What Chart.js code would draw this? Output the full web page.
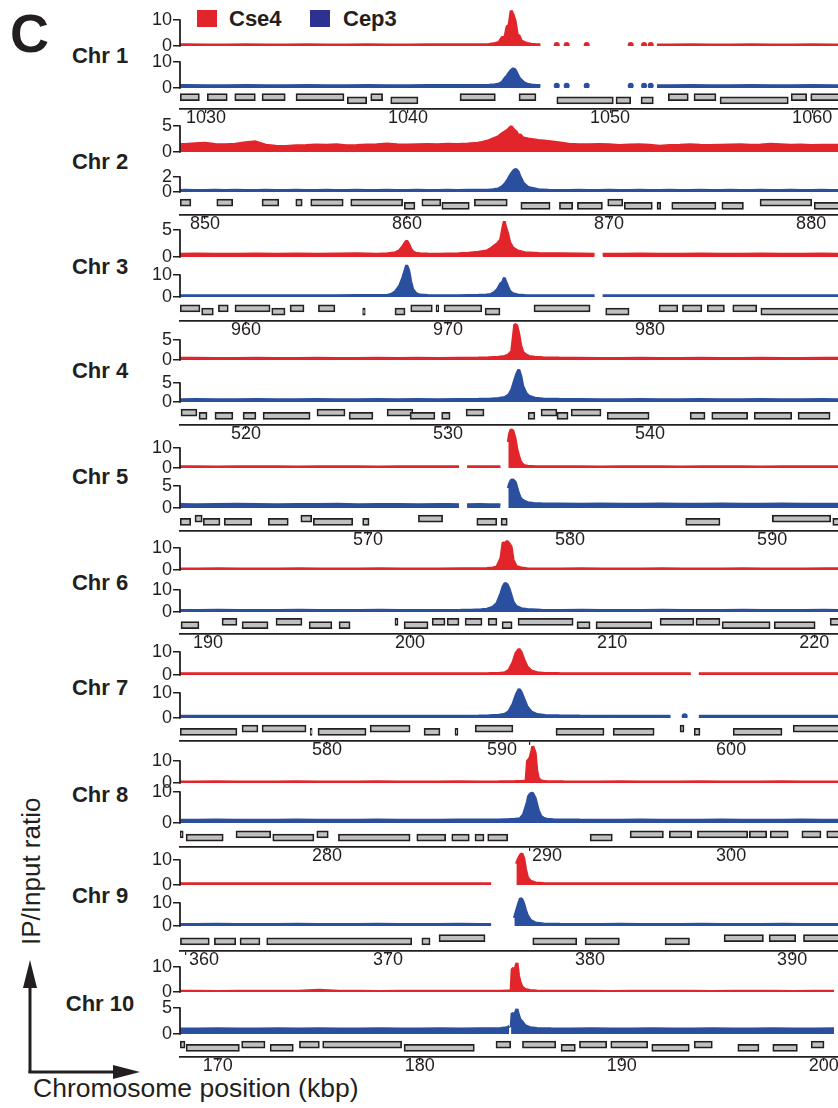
<!DOCTYPE html>
<html>
<head>
<meta charset="utf-8">
<title>Cse4 / Cep3 enrichment at centromeres</title>
<script src="https://cdn.jsdelivr.net/npm/chart.js@4.4.1/dist/chart.umd.min.js"></script>
<style>
  html, body { margin: 0; padding: 0; background: #fff; }
  #page { position: relative; width: 838px; height: 1108px; overflow: hidden; }
  #page canvas { position: absolute; left: 0; }
  #deco { position: absolute; left: 0; top: 0; }
</style>
</head>
<body>
<div id="page">
<svg id="deco" width="838" height="1108" xmlns="http://www.w3.org/2000/svg"
     font-family="'Liberation Sans', Arial, Helvetica, sans-serif" fill="#231f20">
  <text x="10" y="52" font-size="54" font-weight="bold">C</text>
  <rect x="197" y="10" width="20" height="17" fill="#e2242b"/>
  <text x="229" y="26" font-size="22" font-weight="bold">Cse4</text>
  <rect x="310" y="10" width="20" height="17" fill="#2e3192"/>
  <text x="343" y="26" font-size="22" font-weight="bold">Cep3</text>
  <text x="33" y="1097" font-size="26.5">Chromosome position (kbp)</text>
  <text transform="translate(40 945) rotate(-90)" font-size="26">IP/Input ratio</text>
  <line x1="30" y1="1073" x2="30" y2="984" stroke="#231f20" stroke-width="3"/>
  <polygon points="30,960 23,988 37,988"/>
  <line x1="28.5" y1="1072" x2="116" y2="1072" stroke="#231f20" stroke-width="3"/>
  <polygon points="140,1072 113,1065 113,1079"/>
  <g id="chrLabels" font-size="22" font-weight="bold" text-anchor="middle"></g>
</svg>
</div>
<script>
// Cse4 (red) and Cep3 (blue) IP/Input profiles around the ten centromeres

const INK = '#231f20';
const RED = '#e2242b';
const BLUE = '#2b4f9f';
const GENE = '#bfc0c2';
const FONT = "'Liberation Sans', Arial, Helvetica, sans-serif";

const chrNames = ['Chr 1', 'Chr 2', 'Chr 3', 'Chr 4', 'Chr 5', 'Chr 6', 'Chr 7', 'Chr 8', 'Chr 9', 'Chr 10'];
const xMin = [1028.71, 848.76, 956.73, 516.73, 560.69, 188.61, 572.72, 272.72, 359.70, 168.13];
const xSpan = 32.57;
const chrTicks = [
    [1030, 1040, 1050, 1060], [850, 860, 870, 880], [960, 970, 980], [520, 530, 540],
    [570, 580, 590], [190, 200, 210, 220], [580, 590, 600], [280, 290, 300],
    [360, 370, 380, 390], [170, 180, 190, 200]
];
const cse4Top = [10, 5, 5, 5, 10, 10, 10, 10, 10, 10];
const cep3Top = [10, 2, 10, 5, 5, 10, 10, 10, 10, 5];

// ---- Chr 1
const chr1Kbp = [1028, 1029, 1030, 1031, 1032, 1033, 1034, 1035, 1036, 1037, 1038, 1039, 1040, 1041, 1042, 1043, 1044,
    1044.3, 1044.5, 1044.65, 1044.8, 1044.9, 1045.0, 1045.1, 1045.2, 1045.3, 1045.4, 1045.5, 1045.6, 1045.75, 1045.9, 1046.1, 1046.3, 1046.55,
    1046.9, 1047.36, 1047.6, 1047.85, 1048.3, 1048.84, 1049.5, 1051.02, 1051.35, 1051.68, 1051.85, 1052.01, 1052.15,
    1052.32, 1053, 1054, 1055, 1056, 1057, 1058, 1059, 1060, 1061, 1062];
const chr1Cse4 = [0.4, 0.45, 0.4, 0.4, 0.45, 0.4, 0.4, 0.45, 0.4, 0.4, 0.45, 0.4, 0.4, 0.45, 0.5, 0.5, 0.6,
    1.0, 1.4, 3.2, 3.6, 7.5, 8.0, 13.6, 12.0, 9.5, 4.5, 3.8, 2.0, 1.4, 1.0, 0.7, 0.6, 0.5,
    null, 0.4, null, 0.4, null, 0.4, null, 0.4, null, 0.4, null, 0.4, null,
    0.4, 0.4, 0.45, 0.4, 0.4, 0.45, 0.4, 0.4, 0.45, 0.4, 0.4];
const chr1Cep3 = [0.9, 0.95, 0.9, 0.9, 0.95, 0.9, 0.9, 0.95, 0.9, 0.9, 0.95, 0.9, 0.9, 0.95, 1.0, 1.0, 1.1,
    1.3, 1.5, 2.2, 3.8, 4.6, 5.8, 6.8, 7.4, 7.0, 5.4, 3.9, 3.0, 2.0, 1.5, 1.2, 1.1, 1.0,
    null, 0.9, null, 0.9, null, 0.9, null, 0.9, null, 0.9, null, 0.9, null,
    0.9, 0.9, 0.95, 0.9, 0.9, 0.95, 0.9, 0.9, 0.95, 0.9, 0.9];
const chr1Genes = [
    [1028.72, 1029.67, 1], [1030.06, 1031.05, 1], [1031.42, 1032.44, 1], [1032.77, 1033.92, 1], [1034.45, 1036.83, 1],
    [1038.15, 1038.74, 1], [1042.57, 1044.32, 1], [1045.49, 1046.33, 1], [1052.88, 1053.87, 1], [1054.15, 1055.24, 1],
    [1058.96, 1059.73, 1], [1059.93, 1061.6, 1],
    [1036.99, 1037.95, -1], [1039.14, 1040.49, -1], [1047.36, 1050.16, -1], [1050.29, 1051.02, -1], [1051.53, 1052.14, -1],
    [1055.44, 1058.82, -1]];

// ---- Chr 2
const chr2Kbp = [848.5, 849, 849.5, 850, 850.5, 851, 851.5, 852, 852.5, 853, 853.5, 854, 854.5, 855, 855.5, 856, 856.5,
    857, 857.5, 858, 858.5, 859, 859.5, 860, 860.5, 861, 861.5, 862, 862.5, 863, 863.5,
    863.75, 864, 864.25, 864.5, 864.7, 864.85, 865, 865.15, 865.3, 865.4, 865.5, 865.6, 865.75, 866,
    866.5, 867, 867.5, 868, 868.5, 869, 869.5, 870, 870.5, 871, 871.5, 872, 872.5, 873, 873.5, 874, 874.5,
    875, 875.5, 876, 876.5, 877, 877.5, 878, 878.5, 879, 879.5, 880, 880.5, 881, 881.5];
const chr2Cse4 = [1.4, 1.45, 1.6, 1.7, 1.45, 1.4, 1.5, 1.8, 1.95, 1.3, 1.1, 1.05, 1.2, 1.25, 1.35, 1.3, 1.4,
    1.2, 1.25, 1.35, 1.4, 1.55, 1.4, 1.35, 1.4, 1.45, 1.4, 1.5, 1.45, 1.55, 1.7,
    1.9, 2.1, 2.5, 2.9, 3.5, 3.9, 4.3, 4.9, 4.2, 3.9, 3.2, 3.3, 2.7, 2.5,
    2.2, 2.0, 1.8, 1.5, 1.4, 1.4, 1.45, 1.4, 1.25, 1.35, 1.4, 1.3, 1.1, 1.25, 1.3, 1.4, 1.3,
    1.25, 1.3, 1.35, 1.4, 1.3, 1.35, 1.5, 1.4, 1.3, 1.35, 1.25, 1.3, 1.3, 1.3];
const chr2Cep3 = [0.2, 0.22, 0.2, 0.2, 0.22, 0.2, 0.22, 0.2, 0.2, 0.22, 0.2, 0.2, 0.22, 0.2, 0.2, 0.22, 0.2,
    0.2, 0.22, 0.2, 0.2, 0.22, 0.2, 0.2, 0.22, 0.2, 0.2, 0.22, 0.2, 0.22, 0.22,
    0.22, 0.25, 0.3, 0.4, 0.7, 1.1, 1.7, 2.4, 2.9, 3.0, 2.7, 2.0, 1.2, 0.6,
    0.3, 0.22, 0.2, 0.2, 0.22, 0.2, 0.2, 0.22, 0.2, 0.2, 0.22, 0.2, 0.2, 0.22, 0.2, 0.2, 0.22,
    0.2, 0.2, 0.22, 0.2, 0.2, 0.22, 0.2, 0.2, 0.22, 0.2, 0.2, 0.22, 0.2, 0.2];
const chr2Genes = [
    [848.77, 849.3, 1], [850.58, 851.37, 1], [852.82, 853.65, 1], [854.49, 854.81, 1], [855.23, 856.84, 1],
    [857.21, 859.78, 1], [860.73, 861.67, 1], [863.33, 864.96, 1], [869.93, 870.68, 1], [877.47, 880.03, 1],
    [859.86, 860.39, -1], [861.72, 863.08, -1], [865.63, 867.08, -1], [867.54, 868.2, -1], [868.43, 869.67, -1],
    [870.75, 872.14, -1], [872.37, 872.56, -1], [873.1, 875.29, -1], [875.58, 876.65, -1], [880.15, 881.6, -1]];

// ---- Chr 3
const chr3Kbp = [956.5, 957.5, 958.5, 959.5, 960.5, 961.5, 962.5, 963.5, 964.5, 965.5, 966.5,
    967.0, 967.2, 967.4, 967.6, 967.75, 967.85, 967.95, 968.05, 968.15, 968.25, 968.4, 968.6,
    969.0, 969.5, 970.0, 970.5, 971.0, 971.5,
    971.9, 972.1, 972.3, 972.45, 972.6, 972.7, 972.78, 972.85, 972.95, 973.05, 973.2, 973.45, 973.8,
    974.5, 975.5, 976.5, 977.25, 977.45, 977.65,
    978.5, 979.5, 980.5, 981.5, 982.5, 983.5, 984.5, 985.5, 986.5, 987.5, 988.5, 989.5];
const chr3Cse4 = [0.5, 0.55, 0.5, 0.5, 0.55, 0.5, 0.55, 0.5, 0.55, 0.6, 0.5,
    0.6, 0.7, 0.8, 1.2, 1.9, 2.5, 3.0, 2.4, 1.5, 1.0, 0.7, 0.6,
    0.55, 0.5, 0.55, 0.6, 0.7, 0.9,
    1.1, 1.5, 2.1, 2.5, 3.2, 5.2, 6.6, 5.5, 4.3, 2.7, 1.7, 1.1, 0.8,
    0.65, 0.6, 0.55, 0.5, null, 0.5,
    0.5, 0.55, 0.5, 0.5, 0.55, 0.5, 0.5, 0.55, 0.5, 0.5, 0.55, 0.5];
const chr3Cep3 = [0.55, 0.55, 0.6, 0.55, 0.55, 0.6, 0.55, 0.55, 0.6, 0.65, 0.65,
    0.7, 1.3, 2.5, 5.0, 8.5, 11.5, 14.4, 12.0, 7.0, 3.5, 1.7, 0.9,
    0.7, 0.6, 0.6, 0.6, 0.7, 0.8,
    0.9, 1.1, 2.1, 3.5, 6.0, 6.7, 8.7, 7.0, 4.7, 2.7, 1.5, 0.9, 0.7,
    0.6, 0.6, 0.6, 0.55, null, 0.55,
    0.55, 0.6, 0.55, 0.55, 0.6, 0.55, 0.55, 0.6, 0.55, 0.55, 0.6, 0.55];
const chr3Genes = [
    [956.74, 957.72, 1], [958.63, 959.12, 1], [959.45, 961.19, 1], [962.18, 962.87, 1], [963.58, 964.4, 1],
    [968.15, 969.22, 1], [969.4, 969.54, 1], [969.8, 971.67, 1], [974.25, 977.03, 1], [980.44, 981.37, 1],
    [981.6, 982.56, 1], [982.83, 983.68, 1], [984.09, 985.28, 1],
    [957.8, 958.38, -1], [961.27, 961.93, -1], [965.77, 965.9, -1], [967.37, 967.87, -1], [971.83, 972.57, -1],
    [977.8, 978.96, -1], [985.48, 989.6, -1]];

// ---- Chr 4
const chr4Kbp = [516.5, 517.5, 518.5, 519.5, 520.5, 521.5, 522.5, 523.5, 524.5, 525.5, 526.5, 527.5, 528.5, 529.5, 530.5, 531.5,
    532.0, 532.5, 532.8, 533.0, 533.15, 533.3, 533.4, 533.5, 533.6, 533.7, 533.85, 534.0, 534.3, 534.7,
    535.5, 536.5, 537.5, 538.5, 539.5, 540.5, 541.5, 542.5, 543.5, 544.5, 545.5, 546.5, 547.5, 548.5, 549.5];
const chr4Cse4 = [0.4, 0.45, 0.4, 0.4, 0.45, 0.4, 0.4, 0.45, 0.4, 0.4, 0.45, 0.4, 0.45, 0.4, 0.45, 0.5,
    0.55, 0.7, 0.9, 1.3, 2.2, 8.9, 8.6, 6.5, 3.5, 2.0, 1.3, 0.9, 0.7, 0.55,
    0.5, 0.45, 0.4, 0.4, 0.45, 0.4, 0.4, 0.45, 0.4, 0.4, 0.45, 0.4, 0.4, 0.45, 0.4];
const chr4Cep3 = [0.6, 0.65, 0.6, 0.6, 0.65, 0.6, 0.6, 0.65, 0.6, 0.6, 0.65, 0.6, 0.65, 0.6, 0.65, 0.7,
    0.75, 0.9, 1.2, 1.8, 3.2, 5.8, 7.4, 8.5, 6.8, 4.1, 2.4, 1.5, 1.0, 0.8,
    0.7, 0.65, 0.6, 0.6, 0.65, 0.6, 0.6, 0.65, 0.6, 0.6, 0.65, 0.6, 0.6, 0.65, 0.6];
const chr4Genes = [
    [516.78, 517.57, 1], [523.51, 524.9, 1], [526.98, 528.26, 1], [530.89, 531.78, 1], [534.6, 535.39, 1], [536.09, 537.57, 1],
    [517.67, 518.07, -1], [518.46, 519.35, -1], [519.85, 520.49, -1], [520.84, 523.17, -1], [525.1, 526.28, -1],
    [528.12, 529.35, -1], [529.68, 530.1, -1], [533.96, 534.3, -1], [535.39, 535.94, -1], [537.87, 539.95, -1],
    [541.98, 542.72, -1], [543.05, 544.83, -1], [545.15, 547.01, -1], [547.32, 548.91, -1]];

// ---- Chr 5
const chr5Kbp = [560.5, 561.5, 562.5, 563.5, 564.5, 565.5, 566.5, 567.5, 568.5, 569.5, 570.5, 571.5, 572.5, 573.5,
    574.0, 574.5, 574.7, 574.9, 575.5, 576.0, 576.55, 576.75,
    576.94, 577.0, 577.08, 577.17, 577.28, 577.36, 577.44, 577.53, 577.61, 577.75, 577.9, 578.2, 578.6,
    579.5, 580.5, 581.5, 582.5, 583.5, 584.5, 585.5, 586.5, 587.5, 588.5, 589.5, 590.5, 591.5, 592.5, 593.5];
const chr5Cse4 = [0.6, 0.6, 0.55, 0.6, 0.6, 0.6, 0.55, 0.6, 0.6, 0.6, 0.55, 0.6, 0.6, 0.6,
    0.6, 0.6, null, 0.6, 0.6, 0.6, 0.6, null,
    13, 17, 19.2, 18.5, 14.5, 9.5, 6.5, 3.5, 2.2, 1.2, 0.9, 0.7, 0.6,
    0.6, 0.6, 0.55, 0.6, 0.6, 0.6, 0.55, 0.6, 0.6, 0.6, 0.55, 0.6, 0.6, 0.6, 0.6];
const chr5Cep3 = [0.8, 0.75, 0.8, 0.85, 0.8, 0.75, 0.8, 0.8, 0.85, 0.75, 0.8, 0.8, 0.75, 0.8,
    0.8, 0.75, null, 0.75, 0.8, 0.75, 0.75, null,
    4.5, 5.5, 6.3, 6.4, 5.9, 4.7, 3.4, 2.3, 1.9, 1.5, 1.2, 1.0, 0.95,
    0.9, 0.85, 0.9, 0.85, 0.85, 0.9, 0.85, 0.85, 0.9, 0.85, 0.85, 0.9, 0.85, 0.85, 0.85];
const chr5Genes = [
    [561.43, 561.79, 1], [566.67, 567.21, 1], [572.49, 573.69, 1], [590.01, 592.9, 1],
    [560.7, 561.22, -1], [561.84, 562.67, -1], [562.88, 564.24, -1], [565.06, 566.05, -1], [567.29, 569.24, -1],
    [569.73, 570.05, -1], [575.38, 576.37, -1], [576.58, 576.89, -1], [585.72, 587.42, -1], [593.0, 593.5, -1]];

// ---- Chr 6
const chr6Kbp = [188.5, 189.5, 190.5, 191.5, 192.5, 193.5, 194.5, 195.5, 196.5, 197.5, 198.5, 199.5, 200.5, 201.5, 202.5,
    203.0, 203.5, 203.8, 204.1, 204.3, 204.5, 204.6, 204.7, 204.8, 204.9, 205.0, 205.1, 205.25, 205.5, 205.8, 206.5,
    207.5, 208.5, 209.5, 210.5, 211.5, 212.5, 213.5, 214.5, 215.5, 216.5, 217.5, 218.5, 219.5, 220.5, 221.5];
const chr6Cse4 = [0.5, 0.5, 0.55, 0.5, 0.5, 0.5, 0.55, 0.5, 0.5, 0.5, 0.55, 0.5, 0.5, 0.5, 0.55,
    0.55, 0.6, 0.7, 0.9, 1.4, 5.5, 12.5, 11.8, 13.1, 12.0, 10.5, 4.5, 1.6, 0.9, 0.6, 0.5,
    0.5, 0.55, 0.5, 0.5, 0.5, 0.55, 0.5, 0.5, 0.5, 0.55, 0.5, 0.5, 0.5, 0.55, 0.5];
const chr6Cep3 = [0.7, 0.7, 0.75, 0.7, 0.7, 0.7, 0.75, 0.7, 0.7, 0.7, 0.75, 0.7, 0.7, 0.7, 0.75,
    0.8, 1.0, 1.3, 2.2, 4.0, 8.5, 11.5, 13.1, 12.5, 10.5, 7.5, 4.5, 2.6, 1.5, 1.1, 0.8,
    0.7, 0.75, 0.7, 0.7, 0.7, 0.75, 0.7, 0.7, 0.7, 0.75, 0.7, 0.7, 0.7, 0.75, 0.7];
const chr6Genes = [
    [190.69, 191.43, 1], [193.36, 194.65, 1], [199.25, 199.4, 1], [201.09, 201.73, 1], [201.83, 202.42, 1],
    [202.72, 203.56, 1], [203.86, 204.3, 1], [205.34, 208.07, 1], [212.37, 214.05, 1], [214.15, 215.34, 1], [220.79, 221.5, 1],
    [188.66, 189.55, -1], [191.68, 192.97, -1], [195.0, 196.13, -1], [196.48, 197.03, -1], [199.7, 200.89, -1],
    [204.55, 205.05, -1], [208.26, 208.91, -1], [209.2, 211.97, -1], [215.44, 217.82, -1], [218.02, 220.05, -1]];

// ---- Chr 7
const chr7Kbp = [572.5, 573.5, 574.5, 575.5, 576.5, 577.5, 578.5, 579.5, 580.5, 581.5, 582.5, 583.5, 584.5, 585.5, 586.5, 587.5,
    588.0, 588.5, 588.8, 589.0, 589.2, 589.35, 589.5, 589.6, 589.75, 589.9, 590.1, 590.4, 590.8,
    591.5, 592.5, 593.5, 594.5, 595.5, 596.5,
    597.0, 597.3, 597.7, 598.0, 598.2, 598.4, 599.0,
    600, 601, 602, 603, 604, 605.5];
const chr7Cse4 = [0.5, 0.5, 0.55, 0.5, 0.5, 0.5, 0.55, 0.5, 0.5, 0.5, 0.55, 0.5, 0.5, 0.5, 0.55, 0.55,
    0.6, 0.7, 1.0, 2.0, 5.5, 9.5, 11.2, 10, 6.5, 3.5, 1.8, 1.0, 0.7,
    0.6, 0.55, 0.5, 0.5, 0.5, 0.55,
    0.5, 0.5, 0.5, 0.5, null, 0.5, 0.5,
    0.5, 0.55, 0.5, 0.5, 0.5, 0.5];
const chr7Cep3 = [0.7, 0.7, 0.75, 0.7, 0.7, 0.7, 0.75, 0.7, 0.7, 0.7, 0.75, 0.7, 0.7, 0.7, 0.75, 0.8,
    0.9, 1.1, 1.5, 2.6, 5.5, 9, 11.5, 10.5, 7.5, 4.5, 2.5, 1.4, 1.0,
    0.9, 0.8, 0.75, 0.7, 0.7, 0.7,
    0.7, null, 0.7, null, null, 0.7, 0.7,
    0.7, 0.75, 0.7, 0.7, 0.7, 0.7];
const chr7Genes = [
    [575.79, 576.58, 1], [576.78, 578.96, 1], [582.13, 584.11, 1], [587.33, 589.2, 1], [597.47, 597.67, 1], [603.07, 605.5, 1],
    [572.73, 575.54, -1], [579.17, 579.26, -1], [579.55, 581.93, -1], [584.8, 585.59, -1], [586.33, 586.48, -1],
    [591.33, 593.71, -1], [594.16, 596.19, -1], [598.17, 598.46, -1], [600.1, 602.52, -1]];

// ---- Chr 8
const chr8Kbp = [272.5, 273.5, 274.5, 275.5, 276.5, 277.5, 278.5, 279.5, 280.5, 281.5, 282.5, 283.5, 284.5, 285.5, 286.5, 287.5, 288.5,
    289.0, 289.3, 289.55, 289.72, 289.85, 289.92, 289.97, 290.05, 290.13, 290.18, 290.3, 290.38, 290.46, 290.58, 290.7, 290.87, 291.2, 291.7,
    292.5, 293.5, 294.5, 295.5, 296.5, 297.5, 298.5, 299.5, 300.5, 301.5, 302.5, 303.5, 304.5, 305.5];
const chr8Cse4 = [0.5, 0.5, 0.55, 0.5, 0.5, 0.5, 0.55, 0.5, 0.5, 0.5, 0.55, 0.5, 0.5, 0.5, 0.55, 0.5, 0.55,
    0.6, 0.65, 0.7, 0.8, 0.9, 10, 10.5, 11.5, 14.5, 16.7, 13.7, 5.5, 2.1, 1.0, 0.8, 0.7, 0.6, 0.55,
    0.5, 0.5, 0.55, 0.5, 0.5, 0.5, 0.55, 0.5, 0.5, 0.5, 0.55, 0.5, 0.5, 0.5];
const chr8Cep3 = [0.9, 0.9, 0.95, 0.9, 0.9, 0.9, 0.95, 0.9, 0.9, 0.9, 0.95, 0.9, 0.9, 0.9, 0.95, 0.95, 1.0,
    1.1, 1.2, 1.4, 2.7, 5.3, 7.0, 8.5, 9.3, 9.6, 9.5, 8.0, 6.0, 4.0, 2.2, 1.6, 1.2, 1.05, 1.0,
    0.95, 0.9, 0.9, 0.95, 0.9, 0.9, 0.9, 0.95, 0.9, 0.9, 0.9, 0.95, 0.9, 0.9];
const chr8Genes = [
    [272.73, 272.88, 1], [275.49, 277.21, 1], [279.49, 280.06, 1], [295.0, 296.65, 1], [296.94, 298.05, 1],
    [298.33, 300.82, 1], [300.9, 301.76, 1], [301.93, 302.83, 1], [303.5, 304.45, 1], [304.73, 305.5, 1],
    [273.02, 274.86, -1], [277.31, 279.35, -1], [280.56, 284.11, -1], [284.44, 285.87, -1], [286.17, 287.04, -1],
    [287.32, 287.77, -1], [287.95, 288.94, -1], [293.02, 294.12, -1]];

// ---- Chr 9
const chr9Kbp = [359.5, 360.5, 361.5, 362.5, 363.5, 364.5, 365.5, 366.5, 367.5, 368.5, 369.5, 370.5, 371.5, 372.5, 373.5, 374.5,
    375.1, 375.3, 376.25, 376.35, 376.45, 376.55, 376.63, 376.72, 376.8, 376.9, 377.05, 377.3, 377.7,
    378.5, 379.5, 380.5, 381.5, 382.5, 383.5, 384.5, 385.5, 386.5, 387.5, 388.5, 389.5, 390.5, 391.5, 392.5];
const chr9Cse4 = [0.5, 0.5, 0.55, 0.5, 0.5, 0.5, 0.55, 0.5, 0.5, 0.5, 0.55, 0.5, 0.5, 0.5, 0.55, 0.5,
    0.5, null, null, 8.5, 10.5, 12, 12.5, 10.5, 6.5, 3.0, 1.5, 0.8, 0.6,
    0.5, 0.55, 0.5, 0.5, 0.5, 0.55, 0.5, 0.5, 0.5, 0.55, 0.5, 0.5, 0.5, 0.55, 0.5];
const chr9Cep3 = [0.7, 0.7, 0.75, 0.7, 0.7, 0.7, 0.75, 0.7, 0.7, 0.7, 0.75, 0.7, 0.7, 0.7, 0.75, 0.7,
    0.7, null, 3.5, 6.5, 9.5, 12, 11.5, 9.5, 7, 4.5, 2.5, 1.3, 0.9,
    0.75, 0.7, 0.7, 0.75, 0.7, 0.7, 0.7, 0.75, 0.7, 0.7, 0.7, 0.75, 0.7, 0.7, 0.7];
const chr9Genes = [
    [372.52, 374.8, 1], [386.63, 388.58, 1], [388.86, 390.18, 1], [390.56, 392.5, 1],
    [359.72, 361.15, -1], [361.4, 362.46, -1], [362.67, 363.66, -1], [363.99, 371.17, -1], [371.67, 372.08, -1],
    [377.16, 379.34, -1], [379.75, 381.45, -1], [383.71, 384.92, -1]];

// ---- Chr 10
const chr10Kbp = [168, 169, 170, 171, 172, 173, 174, 175, 176, 177, 178, 179, 180, 181, 182, 183,
    183.5, 184.0, 184.3, 184.43, 184.5, 184.52, 184.57, 184.64, 184.69, 184.76, 184.81, 184.89, 184.96, 185.06, 185.21, 185.46, 185.8, 186.5,
    187.5, 188.5, 189.5, 190.5, 191.5, 192.5, 193.5, 194.5, 195.5, 196.5, 197.5, 198.5, 199.5, 200.5];
const chr10Cse4 = [0.3, 0.3, 0.25, 0.3, 0.3, 0.3, 0.35, 0.7, 0.3, 0.3, 0.25, 0.3, 0.3, 0.3, 0.3, 0.3,
    0.3, 0.35, 0.4, 0.4, 0.4, 0.4, 9.0, 9.6, 6.0, 10.5, 11.6, 6.5, 4.0, 2.0, 1.0, 0.6, 0.4, 0.3,
    0.3, 0.3, 0.25, 0.3, 0.3, 0.3, 0.3, 0.25, 0.3, 0.3, 0.3, 0.25, 0.3, 0.3];
const chr10Cep3 = [0.95, 0.95, 1.0, 0.95, 0.95, 1.0, 0.95, 1.0, 0.95, 0.95, 1.0, 0.95, 0.95, 1.0, 0.95, 1.0,
    1.0, 1.05, 1.2, 1.5, null, 1.3, 4.0, 3.8, 3.4, 4.4, 4.8, 3.6, 2.8, 2.4, 1.6, 1.2, 1.05, 1.0,
    0.95, 1.0, 0.95, 0.95, 1.0, 0.95, 0.95, 1.0, 0.95, 0.95, 1.0, 0.95, 0.95, 1.0];
const chr10Genes = [
    [168.14, 168.38, 1], [171.18, 172.34, 1], [174.04, 175.03, 1], [175.19, 179.1, 1], [183.77, 184.5, 1],
    [185.08, 186.73, 1], [187.9, 189.25, 1], [189.45, 191.28, 1], [193.58, 194.48, 1], [199.37, 200.01, 1],
    [168.43, 171.07, -1], [172.59, 173.74, -1], [179.22, 182.7, -1], [186.99, 187.7, -1], [191.48, 193.34, -1],
    [195.74, 196.79, -1], [197.47, 198.69, -1]];

const kbp = [chr1Kbp, chr2Kbp, chr3Kbp, chr4Kbp, chr5Kbp, chr6Kbp, chr7Kbp, chr8Kbp, chr9Kbp, chr10Kbp];
const cse4 = [chr1Cse4, chr2Cse4, chr3Cse4, chr4Cse4, chr5Cse4, chr6Cse4, chr7Cse4, chr8Cse4, chr9Cse4, chr10Cse4];
const cep3 = [chr1Cep3, chr2Cep3, chr3Cep3, chr4Cep3, chr5Cep3, chr6Cep3, chr7Cep3, chr8Cep3, chr9Cep3, chr10Cep3];
const genes = [chr1Genes, chr2Genes, chr3Genes, chr4Genes, chr5Genes, chr6Genes, chr7Genes, chr8Genes, chr9Genes, chr10Genes];

// pixel layout of each panel: canvas top, red top tick, red zero, blue top tick, blue zero, x-axis line, label baseline
const panels = [
    {top: 0,   rT: 20,  rZ: 46,  bT: 62,   bZ: 88,   ax: 109,  lab: 62.5},
    {top: 110, rT: 126, rZ: 152, bT: 177,  bZ: 192,  ax: 215,  lab: 168.5},
    {top: 216, rT: 230, rZ: 257, bT: 275,  bZ: 297,  ax: 321,  lab: 274},
    {top: 322, rT: 340, rZ: 360, bT: 383,  bZ: 402,  ax: 425,  lab: 378},
    {top: 426, rT: 448, rZ: 468, bT: 486,  bZ: 508,  ax: 531,  lab: 484},
    {top: 532, rT: 548, rZ: 570, bT: 590,  bZ: 612,  ax: 634,  lab: 590},
    {top: 635, rT: 652, rZ: 675, bT: 693,  bZ: 718,  ax: 741,  lab: 695},
    {top: 742, rT: 761, rZ: 783, bT: 792,  bZ: 823,  ax: 847,  lab: 802},
    {top: 848, rT: 860, rZ: 885, bT: 903,  bZ: 926,  ax: 951,  lab: 903},
    {top: 952, rT: 967, rZ: 992, bT: 1008, bZ: 1034, ax: 1057, lab: 1011}
];

// labels that the figure nudges sideways to clear a neighbouring peak / the frame
const tickNudge = {6: {590: 'left'}, 7: {290: 'right'}, 8: {360: 'right'}};

// chromosome names
const labGroup = document.getElementById('chrLabels');
chrNames.forEach((name, i) => {
    const t = document.createElementNS('http://www.w3.org/2000/svg', 'text');
    t.setAttribute('x', 100);
    t.setAttribute('y', panels[i].lab);
    t.textContent = name;
    labGroup.appendChild(t);
});

// draws the short "]" axis between 0 and the top tick
const bracketAxis = {
    id: 'bracketAxis',
    afterDraw(chart) {
        const c = chart.ctx;
        c.save();
        c.strokeStyle = INK;
        c.lineWidth = 1.8;
        ['yR', 'yB'].forEach(id => {
            const s = chart.scales[id];
            const top = s.ticks[s.ticks.length - 1].value;
            c.beginPath();
            c.moveTo(s.right, s.getPixelForValue(top) - 0.75);
            c.lineTo(s.right, s.getPixelForValue(0) + 0.75);
            c.stroke();
        });
        c.restore();
    }
};

function dotRadius(ctx) {
    const d = ctx.dataset.data;
    const i = ctx.dataIndex;
    if (d[i].y === null) return 0;
    const prevGap = i === 0 || d[i - 1].y === null;
    const nextGap = i === d.length - 1 || d[i + 1].y === null;
    return prevGap && nextGap ? 3 : 0;
}

function trackScale(weight, h, max, topTick) {
    return {
        type: 'linear',
        position: 'left',
        stack: 'chr',
        stackWeight: h,
        weight: weight,
        min: 0,
        max: max,
        afterBuildTicks: s => { s.ticks = [{value: 0}, {value: topTick}]; },
        afterFit: s => { s.width = 180; s.paddingTop = 0; s.paddingBottom = 0; },
        ticks: { font: {size: 18, family: FONT}, color: INK, padding: 1, autoSkip: false },
        grid: { drawOnChartArea: false, drawTicks: true, tickLength: 7, color: INK, lineWidth: 1.5 },
        border: { display: false }
    };
}

function trackData(i, values) {
    return kbp[i].map((x, j) => ({x: x, y: values[j]}));
}

function lineSet(i, values, axis, color) {
    return {
        type: 'line',
        xAxisID: 'x',
        yAxisID: axis,
        data: trackData(i, values),
        borderColor: color,
        backgroundColor: color,
        borderWidth: 3,
        borderJoinStyle: 'bevel',
        fill: 'origin',
        tension: 0,
        spanGaps: false,
        pointRadius: dotRadius,
        pointBackgroundColor: color,
        pointBorderWidth: 0,
        order: 1
    };
}

const page = document.getElementById('page');

chrNames.forEach((name, i) => {
    const P = panels[i];
    const canvas = document.createElement('canvas');
    canvas.width = 838;
    canvas.height = P.ax + 24 - P.top;
    canvas.style.top = P.top + 'px';
    page.appendChild(canvas);

    const redH = P.rZ - P.top;
    const blueH = P.bZ - P.rZ;
    const geneH = P.ax - P.bZ;
    const redMax = cse4Top[i] * redH / (P.rZ - P.rT);
    const blueMax = cep3Top[i] * blueH / (P.bZ - P.bT);

    new Chart(canvas, {
        type: 'line',
        data: {
            datasets: [
                {
                    type: 'bar',
                    indexAxis: 'y',
                    xAxisID: 'x',
                    yAxisID: 'yG',
                    data: genes[i].map(g => ({x: [g[0], g[1]], y: g[2]})),
                    backgroundColor: GENE,
                    borderColor: INK,
                    borderWidth: 1.7,
                    borderSkipped: false,
                    barThickness: 7,
                    order: 2
                },
                lineSet(i, cse4[i], 'yR', RED),
                lineSet(i, cep3[i], 'yB', BLUE)
            ]
        },
        options: {
            responsive: false,
            animation: false,
            devicePixelRatio: 1,
            events: [],
            layout: { padding: 0, autoPadding: false },
            plugins: { legend: { display: false }, tooltip: { enabled: false } },
            scales: {
                x: {
                    type: 'linear',
                    position: 'bottom',
                    min: xMin[i],
                    max: xMin[i] + xSpan,
                    afterBuildTicks: s => { s.ticks = chrTicks[i].map(v => ({value: v})); },
                    afterFit: s => { s.height = 24; s.paddingLeft = 0; s.paddingRight = 0; },
                    ticks: {
                        font: {size: 18, family: FONT},
                        color: INK,
                        padding: -6,
                        maxRotation: 0,
                        minRotation: 0,
                        autoSkip: false,
                        callback: v => {
                            const n = (tickNudge[i] || {})[v];
                            if (n === 'left') return v + '\u2003\u2003\u2003';
                            if (n === 'right') return '\u2003\u2003' + v;
                            return String(v);
                        }
                    },
                    grid: { drawOnChartArea: false, drawTicks: true, tickLength: 4, color: INK, lineWidth: 1.2 },
                    border: { display: true, color: INK, width: 1.8 }
                },
                yR: trackScale(3, redH, redMax, cse4Top[i]),
                yB: trackScale(2, blueH, blueMax, cep3Top[i]),
                yG: {
                    type: 'linear',
                    position: 'left',
                    stack: 'chr',
                    stackWeight: geneH,
                    weight: 1,
                    min: -3.08,
                    max: (geneH - 10) / 3.25,
                    afterFit: s => { s.width = 180; s.paddingTop = 0; s.paddingBottom = 0; },
                    ticks: { display: false },
                    grid: { display: false },
                    border: { display: false }
                }
            }
        },
        plugins: [bracketAxis]
    });
});
</script>
</body>
</html>
